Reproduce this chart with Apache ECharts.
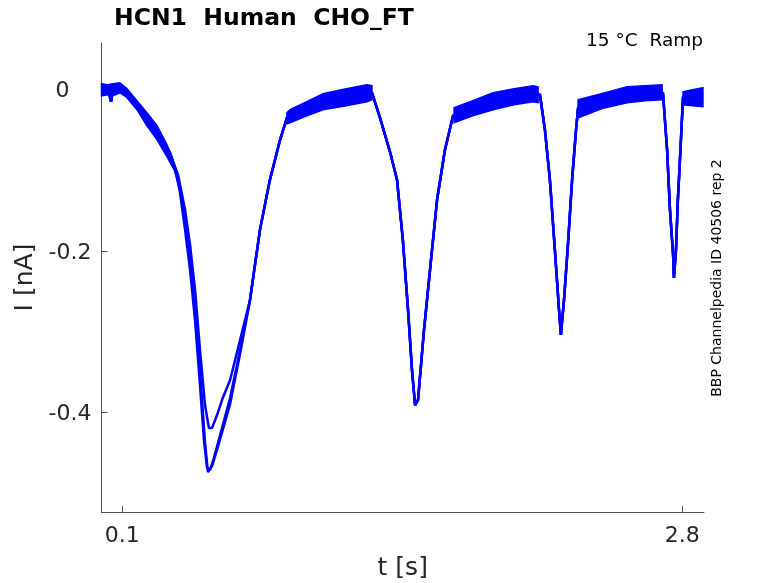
<!DOCTYPE html>
<html>
<head>
<meta charset="utf-8">
<script src="https://cdn.jsdelivr.net/npm/echarts@6/dist/echarts.min.js"></script>
<style>
  html, body { margin: 0; padding: 0; background: #fff; }
  #chart { width: 778px; height: 583px; }
</style>
</head>
<body>
<div id="chart"></div>
<script>
// ---- data (time in s, current in nA) ----
const xTicks = [0.1, 2.8];
const yTicks = [-0.4, -0.2, 0];

// shared start of all sweeps
const headShared = [
  [0, 0], [0.031, 0.0012], [0.046, -0.0149], [0.055, 0], [0.089, 0.0037],
  [0.137, -0.0087], [0.186, -0.0224], [0.234, -0.0398], [0.282, -0.0559], [0.330, -0.0783]
];
// first (slow ramp) valley, one per sweep
const valleyA = [
  [0.354, -0.0969], [0.378, -0.1267], [0.403, -0.1739], [0.427, -0.2236], [0.451, -0.2857],
  [0.475, -0.3665], [0.494, -0.4348], [0.509, -0.4696], [0.523, -0.4720], [0.542, -0.4571],
  [0.572, -0.4286], [0.620, -0.3826], [0.668, -0.3230]
];
const valleyB = [
  [0.369, -0.1056], [0.403, -0.1491], [0.427, -0.1925], [0.451, -0.2484], [0.475, -0.3230],
  [0.499, -0.3913], [0.518, -0.4199], [0.533, -0.4199], [0.557, -0.4037], [0.581, -0.3851],
  [0.620, -0.3602], [0.668, -0.3106]
];
const valleyC = [
  [0.378, -0.1217], [0.427, -0.2087], [0.475, -0.3503], [0.499, -0.4373], [0.513, -0.4745],
  [0.533, -0.4671], [0.562, -0.4422], [0.620, -0.3901], [0.668, -0.3280]
];
// shared remainder of all sweeps
const tailShared = [
  [0.716, -0.2609], [0.764, -0.1739], [0.812, -0.1118], [0.861, -0.0621], [0.894, -0.0348],
  [0.957, -0.0273], [1.102, -0.0137], [1.285, -0.0025], [1.304, -0.0037], [1.343, -0.0348],
  [1.391, -0.0770], [1.425, -0.1118], [1.453, -0.1863], [1.478, -0.2733], [1.497, -0.3478],
  [1.512, -0.3913], [1.526, -0.3851], [1.555, -0.2981], [1.584, -0.2236], [1.618, -0.1366],
  [1.656, -0.0745], [1.695, -0.0323], [1.777, -0.0248], [1.922, -0.0149], [2.090, -0.0050],
  [2.114, -0.0062], [2.138, -0.0497], [2.162, -0.1118], [2.186, -0.1988], [2.206, -0.2733],
  [2.215, -0.3043], [2.230, -0.2609], [2.249, -0.1925], [2.269, -0.1118], [2.288, -0.0497],
  [2.298, -0.0224], [2.403, -0.0161], [2.548, -0.0075], [2.707, -0.0037], [2.727, -0.0745],
  [2.741, -0.1491], [2.756, -0.2050], [2.760, -0.2335], [2.770, -0.1988], [2.779, -0.1366],
  [2.789, -0.0870], [2.804, -0.0087], [2.900, -0.0099]
];
// noise envelopes of the overlapping sweeps: [t, lower, upper]
const bandStart = [
  [0, -0.0075, 0.0075], [0.030, -0.0062, 0.0062], [0.055, -0.0075, 0.0075],
  [0.089, -0.0037, 0.0087], [0.123, -0.0099, 0.0012],
  [0.171, -0.0248, -0.0137], [0.219, -0.0447, -0.0286], [0.268, -0.0621, -0.0447],
  [0.316, -0.0832, -0.0683], [0.345, -0.0969, -0.0870]
];
const bandPlateau1 = [
  [0.894, -0.0422, -0.0286], [0.909, -0.0410, -0.0248], [0.990, -0.0323, -0.0149],
  [1.068, -0.0248, -0.0050], [1.180, -0.0199, 0.0012],
  [1.280, -0.0149, 0.0062], [1.304, -0.0124, 0.0050]
];
const bandPlateau2 = [
  [1.700, -0.0410, -0.0224], [1.790, -0.0323, -0.0137], [1.888, -0.0248, -0.0037],
  [1.990, -0.0186, 0.0012], [2.081, -0.0149, 0.0050], [2.105, -0.0161, 0.0037]
];
const bandPlateau3 = [
  [2.298, -0.0348, -0.0124], [2.410, -0.0236, -0.0050], [2.534, -0.0161, 0.0037],
  [2.620, -0.0137, 0.0050], [2.703, -0.0124, 0.0062]
];
const bandEnd = [
  [2.804, -0.0186, -0.0025], [2.850, -0.0199, 0], [2.900, -0.0211, 0.0025]
];

const sweeps = [
  headShared.concat(valleyA, tailShared),
  headShared.concat(valleyB, tailShared),
  headShared.concat(valleyC, tailShared)
];
const bands = [bandStart, bandPlateau1, bandPlateau2, bandPlateau3, bandEnd];

const BLUE = '#0000ff';
const AXIS = '#4d4d4d';
const TXT = '#262626';
const FONT = 'DejaVu Sans';

const chart = echarts.init(document.getElementById('chart'), null, { renderer: 'canvas' });

const series = sweeps.map(d => ({
  type: 'line',
  data: d,
  showSymbol: false,
  symbol: 'none',
  lineStyle: { color: BLUE, width: 2.5 },
  animation: false,
  z: 3
}));
series.push({
  type: 'custom',
  data: bands.map(b => [b[0][0], b[0][1]]),
  encode: { x: 0, y: 1 },
  animation: false,
  z: 2,
  renderItem: function (params, api) {
    const b = bands[params.dataIndex];
    const upper = b.map(p => api.coord([p[0], p[2]]));
    const lower = b.slice().reverse().map(p => api.coord([p[0], p[1]]));
    return {
      type: 'polygon',
      shape: { points: upper.concat(lower) },
      style: { fill: BLUE, stroke: BLUE, lineWidth: 1.5 }
    };
  }
});

chart.setOption({
  animation: false,
  backgroundColor: '#fff',
  textStyle: { fontFamily: FONT },
  title: {
    text: 'HCN1  Human  CHO_FT',
    left: 114, top: 7, padding: 0,
    textStyle: { fontFamily: FONT, fontWeight: 'bold', fontSize: 23.5, color: '#000' }
  },
  grid: { left: 101.5, right: 74, top: 43, bottom: 71, containLabel: false, outerBoundsMode: 'none' },
  xAxis: {
    type: 'value',
    min: 0, max: 2.905,
    name: 't [s]',
    nameLocation: 'middle',
    nameGap: 44,
    nameTextStyle: { fontFamily: FONT, fontSize: 25, color: TXT },
    axisLine: { show: true, onZero: false, lineStyle: { color: AXIS, width: 1 } },
    axisTick: { show: true, inside: true, length: 6, customValues: xTicks, lineStyle: { color: AXIS } },
    axisLabel: { customValues: xTicks, margin: 13, fontFamily: FONT, fontSize: 22, color: TXT,
      formatter: v => String(v) },
    splitLine: { show: false }
  },
  yAxis: {
    type: 'value',
    min: -0.524, max: 0.058,
    name: 'I [nA]',
    nameLocation: 'middle',
    nameGap: 58,
    nameTextStyle: { fontFamily: FONT, fontSize: 25, color: TXT },
    axisLine: { show: true, onZero: false, lineStyle: { color: AXIS, width: 1 } },
    axisTick: { show: true, inside: true, length: 6, customValues: yTicks, lineStyle: { color: AXIS } },
    axisLabel: { customValues: yTicks, margin: 10, fontFamily: FONT, fontSize: 22, color: TXT,
      padding: [4, 0, 0, 0],
      formatter: v => (v === 0 ? '{z|0}' : String(v)),
      rich: { z: { fontFamily: FONT, fontSize: 22, color: TXT, padding: [0, 22, 0, 0] } } },
    splitLine: { show: false }
  },
  graphic: [
    {
      type: 'text', right: 75, top: 32,
      style: { text: '15 °C  Ramp', font: '18.5px "DejaVu Sans"', fill: '#000' }
    },
    {
      type: 'text', x: 717, y: 278, rotation: Math.PI / 2,
      style: { text: 'BBP Channelpedia ID 40506 rep 2', font: '14px "DejaVu Sans"', fill: '#000',
        align: 'center', verticalAlign: 'middle' }
    }
  ],
  series: series
});
</script>
</body>
</html>
